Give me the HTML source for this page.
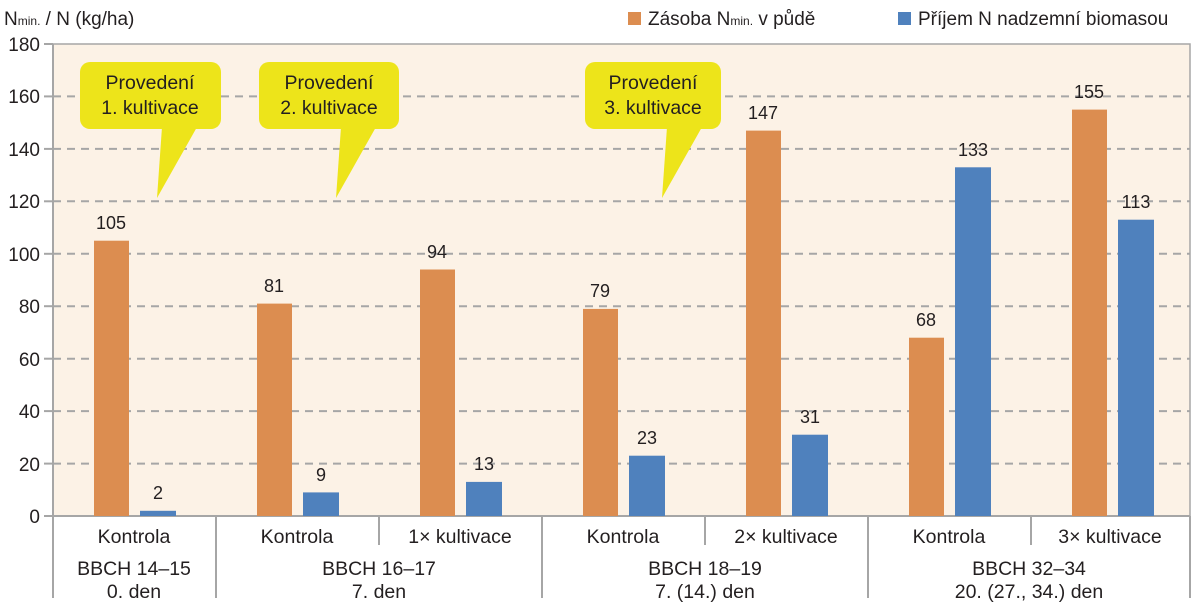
<!DOCTYPE html><html><head><meta charset="utf-8"><style>body{margin:0;background:#fff}svg text{font-family:"Liberation Sans",sans-serif;fill:#231f20}</style></head><body>
<svg width="1200" height="610" xmlns="http://www.w3.org/2000/svg">
<rect x="53" y="44" width="1137" height="472" fill="#fcf2e6" stroke="#a6a6a6" stroke-width="1.5"/>
<g stroke="#a6a6a6" stroke-width="2" stroke-dasharray="8,6">
<line x1="53" y1="96.4" x2="1190" y2="96.4"/><line x1="53" y1="148.9" x2="1190" y2="148.9"/><line x1="53" y1="201.3" x2="1190" y2="201.3"/><line x1="53" y1="253.8" x2="1190" y2="253.8"/><line x1="53" y1="306.2" x2="1190" y2="306.2"/><line x1="53" y1="358.7" x2="1190" y2="358.7"/><line x1="53" y1="411.1" x2="1190" y2="411.1"/><line x1="53" y1="463.6" x2="1190" y2="463.6"/></g>
<g stroke="#a6a6a6" stroke-width="2">
<line x1="44" y1="44" x2="53" y2="44"/><line x1="44" y1="96.4" x2="53" y2="96.4"/><line x1="44" y1="148.9" x2="53" y2="148.9"/><line x1="44" y1="201.3" x2="53" y2="201.3"/><line x1="44" y1="253.8" x2="53" y2="253.8"/><line x1="44" y1="306.2" x2="53" y2="306.2"/><line x1="44" y1="358.7" x2="53" y2="358.7"/><line x1="44" y1="411.1" x2="53" y2="411.1"/><line x1="44" y1="463.6" x2="53" y2="463.6"/><line x1="44" y1="516" x2="1190" y2="516"/>
<line x1="53" y1="44" x2="53" y2="598"/><line x1="216" y1="516" x2="216" y2="598"/><line x1="379" y1="516" x2="379" y2="545"/><line x1="542" y1="516" x2="542" y2="598"/><line x1="705" y1="516" x2="705" y2="545"/><line x1="868" y1="516" x2="868" y2="598"/><line x1="1031" y1="516" x2="1031" y2="545"/><line x1="1190" y1="516" x2="1190" y2="598"/></g>
<g font-size="19" text-anchor="end"><text x="40" y="51">180</text><text x="40" y="103">160</text><text x="40" y="156">140</text><text x="40" y="208">120</text><text x="40" y="261">100</text><text x="40" y="313">80</text><text x="40" y="366">60</text><text x="40" y="418">40</text><text x="40" y="471">20</text><text x="40" y="523">0</text></g>
<text x="4" y="25" font-size="19">N<tspan font-size="12">min.</tspan> / N (kg/ha)</text>
<rect x="628" y="12" width="13" height="13" fill="#dc8d50"/><text x="648" y="25" font-size="19">Zásoba N<tspan font-size="12">min.</tspan> v půdě</text>
<rect x="898" y="12" width="13" height="13" fill="#4f81bd"/><text x="918" y="25" font-size="19">Příjem N nadzemní biomasou</text>
<g fill="#dc8d50">
<rect x="94" y="240.7" width="35" height="275.3"/><rect x="257" y="303.6" width="35" height="212.4"/><rect x="420" y="269.5" width="35" height="246.5"/><rect x="583" y="308.9" width="35" height="207.1"/><rect x="746" y="130.6" width="35" height="385.4"/><rect x="909" y="337.7" width="35" height="178.3"/><rect x="1072" y="109.6" width="35" height="406.4"/></g>
<g fill="#4f81bd">
<rect x="140" y="510.8" width="36" height="5.2"/><rect x="303" y="492.4" width="36" height="23.6"/><rect x="466" y="481.9" width="36" height="34.1"/><rect x="629" y="455.7" width="36" height="60.3"/><rect x="792" y="434.7" width="36" height="81.3"/><rect x="955" y="167.3" width="36" height="348.7"/><rect x="1118" y="219.7" width="36" height="296.3"/></g>
<g font-size="18" text-anchor="middle">
<text x="111" y="229">105</text><text x="158" y="499">2</text><text x="274" y="292">81</text><text x="321" y="481">9</text><text x="437" y="258">94</text><text x="484" y="470">13</text><text x="600" y="297">79</text><text x="647" y="444">23</text><text x="763" y="119">147</text><text x="810" y="423">31</text><text x="926" y="326">68</text><text x="973" y="156">133</text><text x="1089" y="98">155</text><text x="1136" y="208">113</text></g>
<g font-size="19.5" text-anchor="middle">
<text x="134" y="543">Kontrola</text><text x="297" y="543">Kontrola</text><text x="460" y="543">1× kultivace</text><text x="623" y="543">Kontrola</text><text x="786" y="543">2× kultivace</text><text x="949" y="543">Kontrola</text><text x="1110" y="543">3× kultivace</text>
<text x="134" y="575">BBCH 14–15</text><text x="134" y="598">0. den</text><text x="379" y="575">BBCH 16–17</text><text x="379" y="598">7. den</text><text x="705" y="575">BBCH 18–19</text><text x="705" y="598">7. (14.) den</text><text x="1029" y="575">BBCH 32–34</text><text x="1029" y="598">20. (27., 34.) den</text></g>
<g fill="#ede41a"><rect x="80" y="62" width="141" height="67" rx="10"/><path d="M162,127 L197,127 L157,198 Z"/>
<rect x="259" y="62" width="140" height="67" rx="10"/><path d="M341,127 L376,127 L336,198 Z"/>
<rect x="585" y="62" width="136" height="67" rx="10"/><path d="M667,127 L702,127 L662,198 Z"/></g>
<g font-size="19.5" text-anchor="middle"><text x="150" y="89">Provedení</text><text x="150" y="114">1. kultivace</text><text x="329" y="89">Provedení</text><text x="329" y="114">2. kultivace</text><text x="653" y="89">Provedení</text><text x="653" y="114">3. kultivace</text></g>
</svg></body></html>
